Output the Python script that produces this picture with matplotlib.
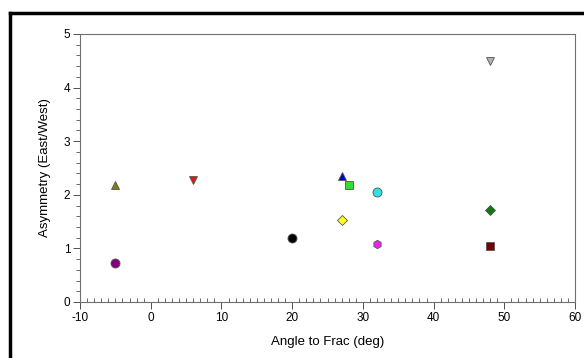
import matplotlib
matplotlib.use("Agg")
import matplotlib.pyplot as plt
from matplotlib.lines import Line2D
from matplotlib.ticker import MultipleLocator

plt.rcParams["font.family"] = ["Liberation Sans", "DejaVu Sans"]
plt.rcParams["axes.unicode_minus"] = False

# one marker per sample
angle = [-5, -5, 6, 20, 27, 28, 32, 27, 32, 48, 48, 48]
asym = [2.18, 0.73, 2.28, 1.19, 2.36, 2.19, 2.06, 1.53, 1.09, 4.49, 1.72, 1.04]
markers = ["^", "o", "v", "o", "^", "s", "o", "D", "h", "v", "D", "s"]
colors = ["#7f7f10", "#800080", "#e01818", "#000000", "#0000c8", "#30e030",
          "#30e0e8", "#ffff30", "#f020f0", "#b0b0b0", "#107810", "#780000"]
sizes = [5.5, 6.5, 5.5, 6.5, 5.5, 6, 6.5, 5, 6, 5.5, 5, 6]

fig = plt.figure(figsize=(5.84, 3.58), dpi=100)
ax = fig.add_axes([80 / 584, 56 / 358, 495 / 584, 268 / 358])

for x, y, m, c, s in zip(angle, asym, markers, colors, sizes):
    ax.plot(x, y, linestyle="none", marker=m, color=c, markersize=s,
            markeredgecolor="#555555", markeredgewidth=0.6)

ax.set_xlim(-10, 60)
ax.set_ylim(0, 5)
ax.xaxis.set_major_locator(MultipleLocator(10))
ax.xaxis.set_minor_locator(MultipleLocator(1))
ax.yaxis.set_major_locator(MultipleLocator(1))
ax.yaxis.set_minor_locator(MultipleLocator(0.2))

for sp in ax.spines.values():
    sp.set_color("#707070")
    sp.set_linewidth(0.8)

ax.tick_params(which="major", direction="out", length=5, width=0.7,
               color="#505050", labelsize=8.5, pad=2)
ax.tick_params(axis="x", which="minor", direction="in", length=3, width=0.6,
               color="#505050")
ax.tick_params(axis="y", which="minor", direction="out", length=3, width=0.6,
               color="#505050")

ax.set_xlabel("Angle to Frac (deg)", fontsize=9.5, labelpad=9)
ax.set_ylabel("Asymmetry (East/West)", fontsize=9.5, labelpad=9)

# outer frame, cut off at the right and bottom
x0 = 9.5 / 584
y0 = 1 - 13 / 358
fig.add_artist(Line2D([x0, x0], [0, y0], color="black", linewidth=2.5,
                      transform=fig.transFigure))
fig.add_artist(Line2D([x0, 1], [y0, y0], color="black", linewidth=2.5,
                      transform=fig.transFigure))

fig.savefig("out.png", dpi=100)
